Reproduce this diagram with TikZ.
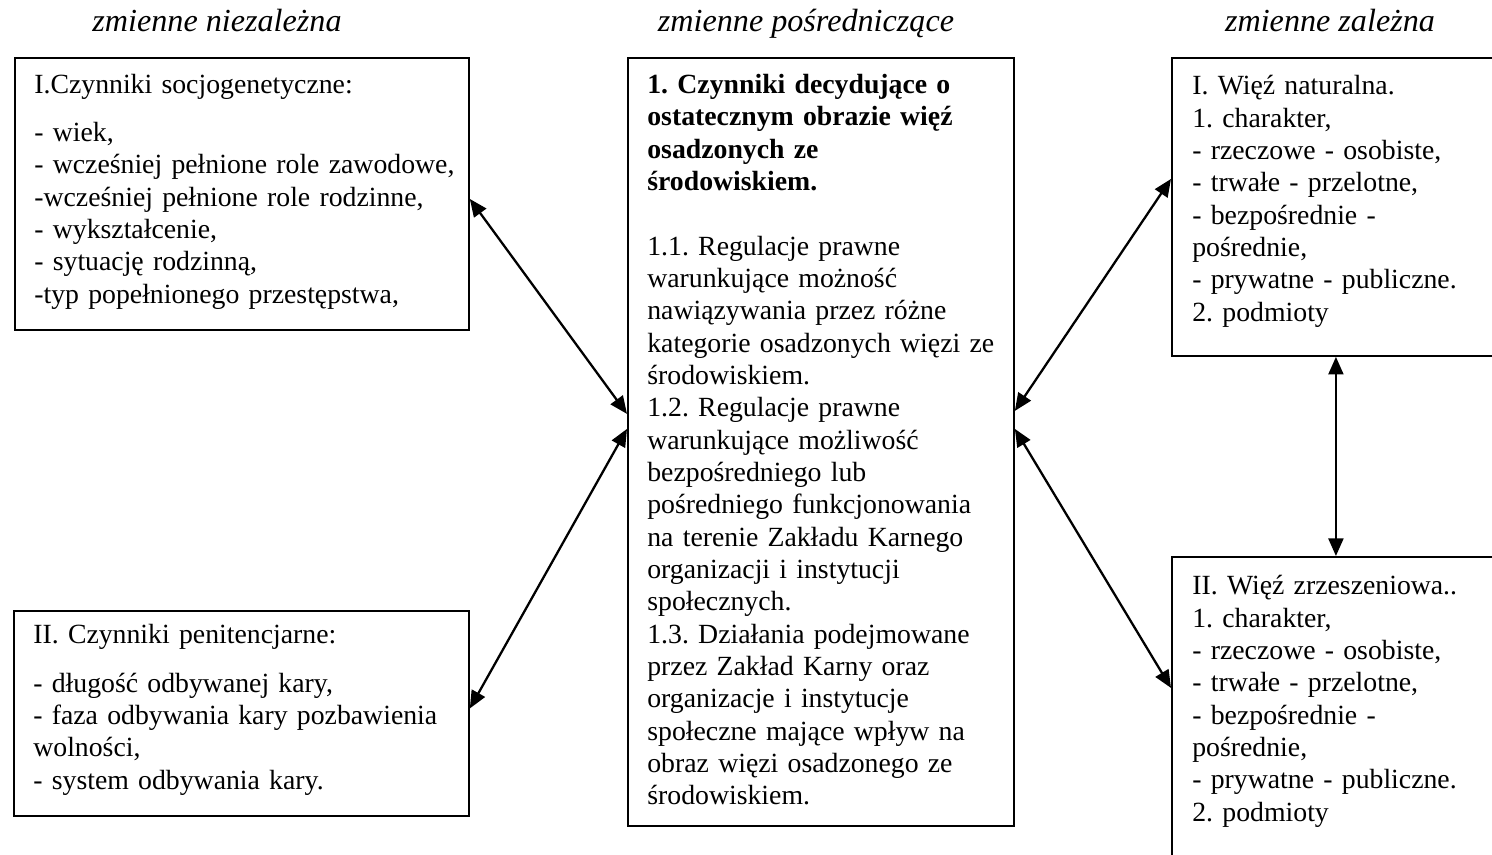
\documentclass[tikz,border=0pt]{standalone}
\usepackage{fontspec}
\setmainfont{Liberation Serif}
\usetikzlibrary{arrows.meta,positioning}
\frenchspacing

\begin{document}
\begin{tikzpicture}[x=0.02cm, y=-0.02cm,
    varbox/.style={rectangle, draw, line width=1.1pt, anchor=north west, inner sep=0pt},
    vartext/.style={anchor=north west, inner sep=0pt, align=left, font=\fontsize{15.8pt}{18.4pt}\selectfont},
    header/.style={anchor=base, font=\fontsize{18.3pt}{21pt}\selectfont\itshape},
    link/.style={{Triangle[length=10pt,width=8.5pt]}-{Triangle[length=10pt,width=8.5pt]}, line width=1.3pt}
]
    \clip (0,0) rectangle (1492,855);

    % column headers
    \node[header] (hindep) at (217,32) {zmienne niezależna};
    \node[header] (hmid) at (806,32) {zmienne pośredniczące};
    \node[header] (hdep) at (1330,32) {zmienne zależna};

    % boxes
    \node[varbox, minimum width=9.08cm, minimum height=5.44cm] (socio) at (14,57) {};
    \node[varbox, minimum width=9.1cm, minimum height=4.1cm] (penit) at (13,610) {};
    \node[varbox, minimum width=7.72cm, minimum height=15.36cm] (mediat) at (627,57) {};
    \node[varbox, minimum width=6.56cm, minimum height=5.96cm] (natural) at (1171,57) {};
    \node[varbox, minimum width=6.56cm, minimum height=6.48cm] (assoc) at (1171,556) {};

    \node[vartext, text width=8.6cm] (sociotext) at ([xshift=0.4cm, yshift=-0.27cm]socio.north west)
        {\strut I.Czynniki socjogenetyczne:\\[9pt]
         - wiek,\\
         - wcześniej pełnione role zawodowe,\\
         -wcześniej pełnione role rodzinne,\\
         - wykształcenie,\\
         - sytuację rodzinną,\\
         -typ popełnionego przestępstwa,};
    \node[vartext, text width=8.6cm] (penittext) at ([xshift=0.4cm, yshift=-0.22cm]penit.north west)
        {\strut II. Czynniki penitencjarne:\\[9pt]
         - długość odbywanej kary,\\
         - faza odbywania kary pozbawienia\\
         wolności,\\
         - system odbywania kary.};
    \node[vartext, text width=7.3cm] (mediattext) at ([xshift=0.4cm, yshift=-0.27cm]mediat.north west)
        {\strut{\bfseries 1. Czynniki decydujące o\\
         ostatecznym obrazie więź\\
         osadzonych ze\\
         środowiskiem.}\\[18.4pt]
         1.1. Regulacje prawne\\
         warunkujące możność\\
         nawiązywania przez różne\\
         kategorie osadzonych więzi ze\\
         środowiskiem.\\
         1.2. Regulacje prawne\\
         warunkujące możliwość\\
         bezpośredniego lub\\
         pośredniego funkcjonowania\\
         na terenie Zakładu Karnego\\
         organizacji i instytucji\\
         społecznych.\\
         1.3. Działania podejmowane\\
         przez Zakład Karny oraz\\
         organizacje i instytucje\\
         społeczne mające wpływ na\\
         obraz więzi osadzonego ze\\
         środowiskiem.};
    \node[vartext, text width=6.1cm] (naturaltext) at ([xshift=0.42cm, yshift=-0.3cm]natural.north west)
        {\strut I. Więź naturalna.\\
         1. charakter,\\
         - rzeczowe - osobiste,\\
         - trwałe - przelotne,\\
         - bezpośrednie -\\
         pośrednie,\\
         - prywatne - publiczne.\\
         2. podmioty};
    \node[vartext, text width=6.1cm] (assoctext) at ([xshift=0.42cm, yshift=-0.32cm]assoc.north west)
        {\strut II. Więź zrzeszeniowa..\\
         1. charakter,\\
         - rzeczowe - osobiste,\\
         - trwałe - przelotne,\\
         - bezpośrednie -\\
         pośrednie,\\
         - prywatne - publiczne.\\
         2. podmioty};

    % connections
    \draw[link] ([yshift=-0.1cm]socio.east) -- ([yshift=0.56cm]mediat.west);
    \draw[link] ([yshift=0.1cm]penit.east) -- ([yshift=0.26cm]mediat.west);
    \draw[link] ([yshift=0.62cm]mediat.east) -- ([yshift=0.56cm]natural.west);
    \draw[link] ([yshift=0.26cm]mediat.east) -- ([yshift=0.62cm]assoc.west);
    \draw[link] (natural.south) -- (assoc.north);
\end{tikzpicture}
\end{document}
